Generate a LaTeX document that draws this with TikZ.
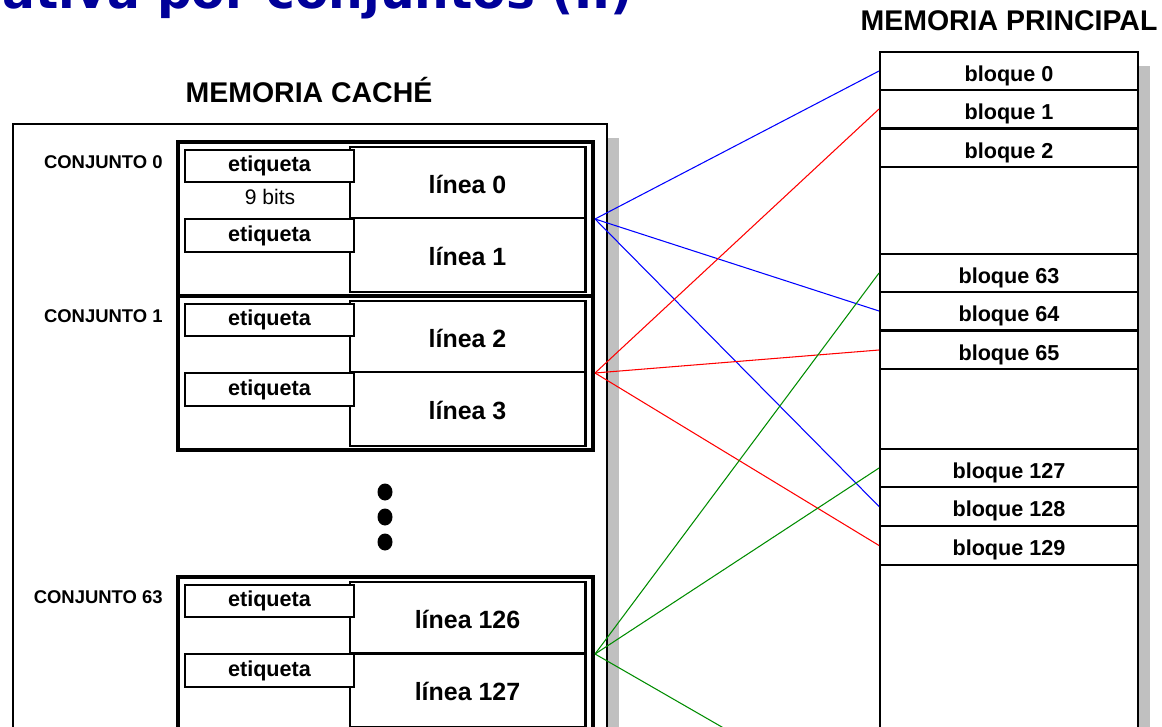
\documentclass[tikz,border=0pt]{standalone}
\usepackage{fontspec}
\setmainfont{Liberation Sans}
\newfontfamily\titlefont{DejaVu Sans}

\begin{document}
\begin{tikzpicture}[
    x=0.2mm, y=-0.2mm,
    setbox/.style={draw, line width=2.3pt, minimum width=8.3cm, minimum height=3.08cm, inner sep=0pt},
    linebox/.style={draw, line width=1.7pt, fill=white, minimum width=4.7cm, inner sep=0pt,
        text height=12.2pt, text depth=0pt, font=\fontsize{14.2}{17}\selectfont\bfseries},
    tagbox/.style={draw, line width=1.1pt, fill=white, minimum width=3.38cm, minimum height=0.65cm,
        inner sep=0pt, font=\fontsize{12.3}{15}\selectfont\bfseries},
    block/.style={draw, line width=1.1pt, fill=white, minimum width=5.16cm, minimum height=0.77cm,
        inner sep=0pt, text height=11.4pt, text depth=0pt, font=\fontsize{12.3}{15}\selectfont\bfseries},
    setlabel/.style={anchor=base east, inner sep=0pt, font=\fontsize{10.5}{13}\selectfont\bfseries},
    heading/.style={anchor=base, inner sep=0pt, font=\fontsize{16.2}{19}\selectfont\bfseries},
    link/.style={line width=0.6pt}
]
\definecolor{titleblue}{RGB}{0,0,153}
\definecolor{shadowgrey}{RGB}{192,192,192}
\definecolor{linkgreen}{RGB}{0,140,0}

\useasboundingbox (0,0) rectangle (1162,727);

% ======================
% Title (cut at the top)
% ======================
\node[anchor=base east, inner sep=0pt, text=titleblue, font=\titlefont\fontsize{27.7}{33}\selectfont\bfseries]
    (title) at (633, 8.5) {ativa por conjuntos (II)};

% ======================
% Cache frame
% ======================
\fill[shadowgrey] (25,138) rectangle (619,800);
\draw[line width=1.1pt, fill=white] (13,124) rectangle (607,800);
\node[heading] (cachetitle) at (309,102) {MEMORIA CACHÉ};

% ======================
% Set 0
% ======================
\node[setbox] (S0) at (385.5, 219) {};
\node[linebox, minimum height=1.42cm] (L0) at (467.5, 182.5) {línea 0};
\node[linebox, minimum height=1.48cm] (L1) at (467.5, 255) {línea 1};
\node[tagbox] (T0) at (269.5, 166) {etiqueta};
\node[tagbox] (T1) at (269.5, 235.5) {etiqueta};
\node[font=\fontsize{12}{14}\selectfont] (bits) at (270, 197) {9 bits};
\node[setlabel] (C0) at (163, 168) {CONJUNTO 0};

% ======================
% Set 1
% ======================
\node[setbox] (S1) at (385.5, 373) {};
\node[linebox, minimum height=1.42cm] (L2) at (467.5, 336.5) {línea 2};
\node[linebox, minimum height=1.48cm] (L3) at (467.5, 409) {línea 3};
\node[tagbox] (T2) at (269.5, 320) {etiqueta};
\node[tagbox] (T3) at (269.5, 389.5) {etiqueta};
\node[setlabel] (C1) at (163, 322) {CONJUNTO 1};

% dots
\foreach \y in {492,517,542}
    \fill (385,\y) circle [x radius=1.5mm, y radius=1.7mm];

% ======================
% Set 63
% ======================
\node[setbox] (S63) at (385.5, 654) {};
\node[linebox, minimum height=1.42cm] (L126) at (467.5, 617.5) {línea 126};
\node[linebox, minimum height=1.48cm] (L127) at (467.5, 690) {línea 127};
\node[tagbox] (T126) at (269.5, 601) {etiqueta};
\node[tagbox] (T127) at (269.5, 670.5) {etiqueta};
\node[setlabel] (C63) at (163, 603) {CONJUNTO 63};

% ======================
% Main memory
% ======================
\fill[shadowgrey] (892,66) rectangle (1150,800);
\draw[line width=1.1pt, fill=white] (880,52) rectangle (1138,800);
\node[heading] (memtitle) at (1009,31) {MEMORIA PRINCIPAL};

\node[block] (B0)   at (1009, 71)    {bloque 0};
\node[block] (B1)   at (1009, 109)   {bloque 1};
\node[block] (B2)   at (1009, 148)   {bloque 2};
\node[block] (B63)  at (1009, 273)   {bloque 63};
\node[block] (B64)  at (1009, 311)   {bloque 64};
\node[block] (B65)  at (1009, 350)   {bloque 65};
\node[block] (B127) at (1009, 468)   {bloque 127};
\node[block] (B128) at (1009, 506.5) {bloque 128};
\node[block] (B129) at (1009, 545.5) {bloque 129};
\coordinate (B191) at (880, 818);

% ======================
% Connections
% ======================
\foreach \t in {B0,B64,B128} {
    \draw[link, blue] (S0.east) -- (\t.west);
}
\foreach \t in {B1,B65,B129} {
    \draw[link, red] (S1.east) -- (\t.west);
}
\foreach \t in {B63,B127,B191} {
    \draw[link, linkgreen] (S63.east) -- (\t.west);
}

\end{tikzpicture}
\end{document}
